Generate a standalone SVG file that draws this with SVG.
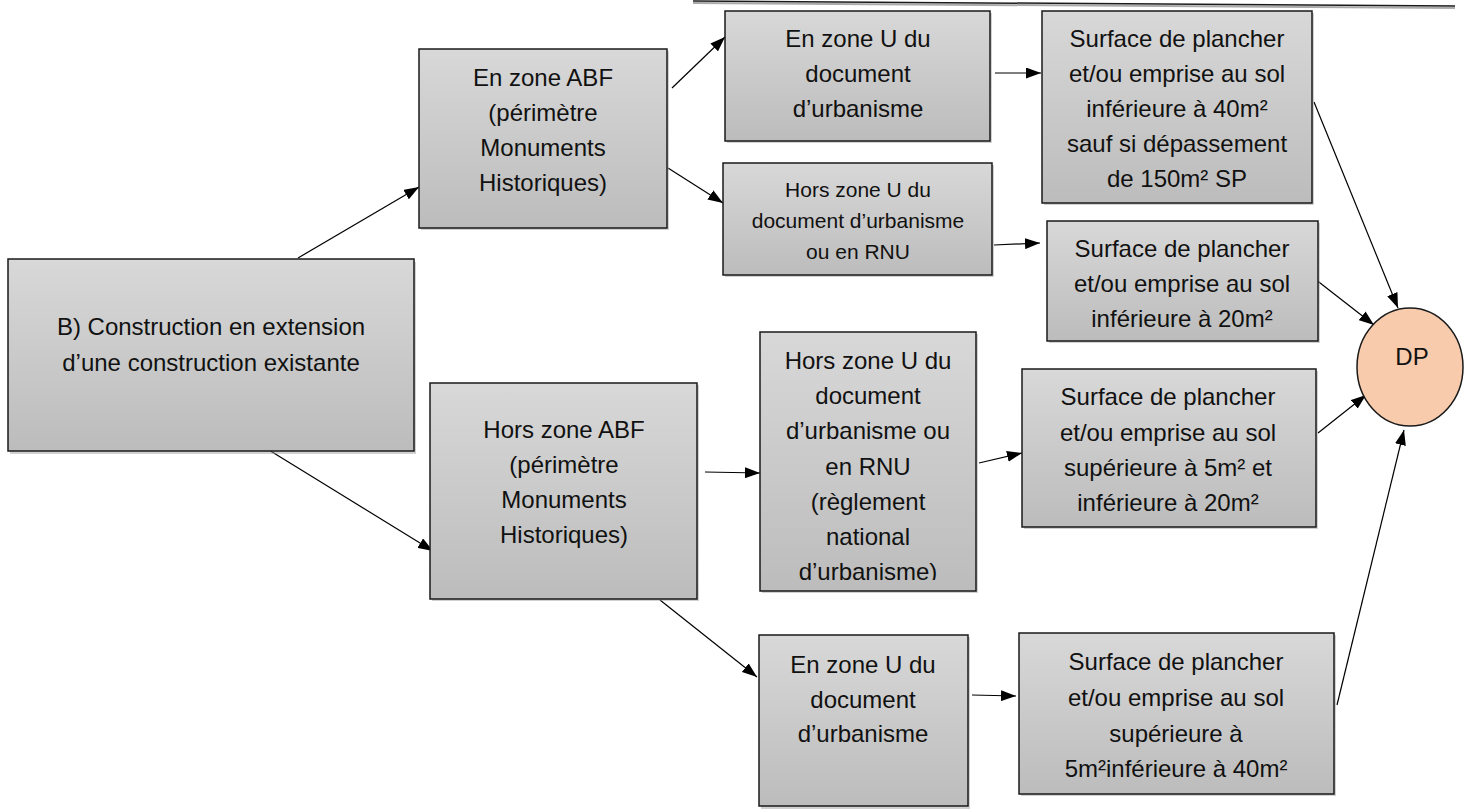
<svg xmlns="http://www.w3.org/2000/svg" width="1464" height="809" viewBox="0 0 1464 809">
<defs>
<linearGradient id="g" x1="0" y1="0" x2="0" y2="1">
<stop offset="0" stop-color="#d8d8d8"/>
<stop offset="1" stop-color="#bcbcbc"/>
</linearGradient>
<marker id="ah" markerUnits="userSpaceOnUse" markerWidth="15" markerHeight="11" refX="15" refY="5.5" orient="auto">
<path d="M0,0 L15,5.5 L0,11 z" fill="#000"/>
</marker>
<clipPath id="clipH"><rect x="760" y="332" width="216" height="248"/></clipPath>
</defs>
<style>
.box{fill:url(#g);stroke:#1a1a1a;stroke-width:1.5}
.sh{fill:#9a9a9a;opacity:0.45}
.t{font-family:"Liberation Sans",Arial,sans-serif;font-size:24px;fill:#111;text-anchor:middle}
.ts{font-size:21px}
.ca{stroke:#000;stroke-width:1.2;fill:none;marker-end:url(#ah)}
</style>
<rect width="1464" height="809" fill="#fff"/>
<line x1="693" y1="3" x2="1455" y2="8" stroke="#aaa" stroke-width="2"/>
<line x1="693" y1="1" x2="1455" y2="6" stroke="#1a1a1a" stroke-width="1.5"/>

<g id="connectors">
<line class="ca" x1="298" y1="258" x2="419" y2="187"/>
<line class="ca" x1="672" y1="88" x2="725" y2="37"/>
<line class="ca" x1="668" y1="168" x2="723" y2="203"/>
<line class="ca" x1="995" y1="73" x2="1041" y2="73"/>
<line class="ca" x1="994" y1="245" x2="1040" y2="243"/>
<line class="ca" x1="1314" y1="102" x2="1398" y2="308"/>
<line class="ca" x1="1306" y1="272" x2="1374" y2="325"/>
<line class="ca" x1="264" y1="447" x2="433" y2="551"/>
<line class="ca" x1="705" y1="472" x2="760" y2="473"/>
<line class="ca" x1="979" y1="463" x2="1022" y2="453"/>
<line class="ca" x1="1318" y1="433" x2="1366" y2="395"/>
<line class="ca" x1="660" y1="600" x2="757" y2="677"/>
<line class="ca" x1="972" y1="695" x2="1016" y2="696"/>
<line class="ca" x1="1337" y1="705" x2="1404" y2="430"/>
</g>

<g id="nodeA">
<rect class="sh" x="10" y="262" width="406" height="192"/>
<rect class="box" x="8" y="259" width="406" height="192"/>
<text class="t" x="211" y="335">B) Construction en extension</text>
<text class="t" x="211" y="371">d’une construction existante</text>
</g>

<g id="nodeB">
<rect class="sh" x="421" y="51" width="248" height="179"/>
<rect class="box" x="419" y="49" width="248" height="179"/>
<text class="t" x="543" y="86">En zone ABF</text>
<text class="t" x="543" y="121">(périmètre</text>
<text class="t" x="543" y="156">Monuments</text>
<text class="t" x="543" y="191">Historiques)</text>
</g>

<g id="nodeC">
<rect class="sh" x="727" y="13" width="265" height="130"/>
<rect class="box" x="725" y="11" width="265" height="130"/>
<text class="t" x="858" y="47">En zone U du</text>
<text class="t" x="858" y="82">document</text>
<text class="t" x="858" y="117">d’urbanisme</text>
</g>

<g id="nodeD">
<rect class="sh" x="725" y="165" width="269" height="112"/>
<rect class="box" x="723" y="163" width="269" height="112"/>
<text class="t ts" x="858" y="197">Hors zone U du</text>
<text class="t ts" x="858" y="228">document d’urbanisme</text>
<text class="t ts" x="858" y="259">ou en RNU</text>
</g>

<g id="nodeE">
<rect class="sh" x="1044" y="13" width="270" height="192"/>
<rect class="box" x="1042" y="11" width="270" height="192"/>
<text class="t" x="1177" y="47">Surface de plancher</text>
<text class="t" x="1177" y="82">et/ou emprise au sol</text>
<text class="t" x="1177" y="117">inférieure à 40m²</text>
<text class="t" x="1177" y="152">sauf si dépassement</text>
<text class="t" x="1177" y="187">de 150m² SP</text>
</g>

<g id="nodeF">
<rect class="sh" x="1049" y="223" width="271" height="120"/>
<rect class="box" x="1047" y="221" width="271" height="120"/>
<text class="t" x="1182" y="257">Surface de plancher</text>
<text class="t" x="1182" y="292">et/ou emprise au sol</text>
<text class="t" x="1182" y="327">inférieure à 20m²</text>
</g>

<g id="nodeDP">
<ellipse cx="1410" cy="367" rx="53" ry="59" fill="#f8cbad" stroke="#1a1a1a" stroke-width="1.5"/>
<text class="t" x="1412" y="365">DP</text>
</g>

<g id="nodeJ">
<rect class="sh" x="432" y="385" width="267" height="216"/>
<rect class="box" x="430" y="383" width="267" height="216"/>
<text class="t" x="564" y="438">Hors zone ABF</text>
<text class="t" x="564" y="473">(périmètre</text>
<text class="t" x="564" y="508">Monuments</text>
<text class="t" x="564" y="543">Historiques)</text>
</g>

<g id="nodeH">
<rect class="sh" x="762" y="334" width="216" height="259"/>
<rect class="box" x="760" y="332" width="216" height="259"/>
<g clip-path="url(#clipH)">
<text class="t" x="868" y="369">Hors zone U du</text>
<text class="t" x="868" y="404">document</text>
<text class="t" x="868" y="439">d’urbanisme ou</text>
<text class="t" x="868" y="475">en RNU</text>
<text class="t" x="868" y="510">(règlement</text>
<text class="t" x="868" y="545">national</text>
<text class="t" x="868" y="580">d’urbanisme)</text>
</g>
</g>

<g id="nodeG">
<rect class="sh" x="1024" y="371" width="294" height="158"/>
<rect class="box" x="1022" y="369" width="294" height="158"/>
<text class="t" x="1168" y="405">Surface de plancher</text>
<text class="t" x="1168" y="441">et/ou emprise au sol</text>
<text class="t" x="1168" y="476">supérieure à 5m² et</text>
<text class="t" x="1168" y="511">inférieure à 20m²</text>
</g>

<g id="nodeK">
<rect class="sh" x="761" y="637" width="209" height="172"/>
<rect class="box" x="759" y="635" width="209" height="171"/>
<text class="t" x="863" y="673">En zone U du</text>
<text class="t" x="863" y="708">document</text>
<text class="t" x="863" y="742">d’urbanisme</text>
</g>

<g id="nodeL">
<rect class="sh" x="1021" y="635" width="315" height="161"/>
<rect class="box" x="1019" y="633" width="315" height="161"/>
<text class="t" x="1176" y="670">Surface de plancher</text>
<text class="t" x="1176" y="706">et/ou emprise au sol</text>
<text class="t" x="1176" y="742">supérieure à</text>
<text class="t" x="1176" y="777">5m²inférieure à 40m²</text>
</g>
</svg>
